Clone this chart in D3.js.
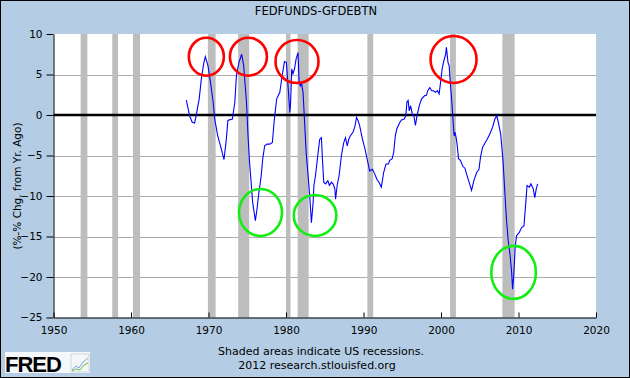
<!DOCTYPE html>
<html>
<head>
<meta charset="utf-8">
<script src="https://cdn.jsdelivr.net/npm/d3@7/dist/d3.min.js"></script>
<style>
  html, body { margin: 0; padding: 0; background: #b4cde4; }
  svg { display: block; }
  text { font-family: "DejaVu Sans", Verdana, sans-serif; fill: #000; }
</style>
</head>
<body>
<svg id="chart" width="630" height="378"></svg>
<script>
// ---- data (decimal year, % - % change from year ago) ----
const dates = [
  1967.14,1967.56,1967.9,1968.2,1968.4,1968.8,1969.07,1969.37,1969.59,1969.93,
  1970.2,1970.6,1970.8,1971.2,1971.66,1972.0,1972.3,1972.5,1972.7,1973.08,
  1973.4,1973.6,1973.93,1974.28,1974.54,1974.9,1975.1,1975.3,1975.5,1975.7,
  1976.05,1976.26,1976.5,1976.8,1977.0,1977.25,1977.55,1977.9,1978.24,1978.5,
  1978.8,1979.2,1979.5,1979.8,1980.05,1980.26,1980.5,1980.6,1980.74,1980.9,
  1981.1,1981.3,1981.55,1981.7,1981.85,1982.0,1982.2,1982.4,1982.6,1982.85,
  1983.06,1983.28,1983.5,1983.6,1983.8,1984.1,1984.35,1984.57,1984.7,1984.87,
  1985.1,1985.4,1985.6,1985.86,1986.07,1986.3,1986.4,1986.6,1986.85,1987.15,
  1987.45,1987.67,1987.9,1988.1,1988.3,1988.65,1988.87,1989.1,1989.3,1989.5,
  1989.87,1990.2,1990.46,1990.8,1991.16,1991.46,1991.75,1992.0,1992.3,1992.6,
  1992.9,1993.2,1993.4,1993.7,1993.9,1994.1,1994.3,1994.7,1994.9,1995.25,
  1995.46,1995.6,1995.76,1995.9,1996.07,1996.3,1996.5,1996.7,1996.9,1997.2,
  1997.5,1997.9,1998.1,1998.3,1998.56,1998.8,1999.0,1999.3,1999.55,1999.76,
  1999.94,2000.15,2000.37,2000.6,2000.7,2000.9,2001.05,2001.2,2001.4,2001.57,
  2001.7,2001.8,2001.95,2002.1,2002.26,2002.5,2002.8,2003.1,2003.3,2003.6,
  2003.94,2004.24,2004.6,2004.9,2005.1,2005.36,2005.66,2005.96,2006.3,2006.66,
  2006.95,2007.2,2007.4,2007.7,2008.0,2008.25,2008.46,2008.67,2008.9,2009.1,
  2009.24,2009.4,2009.57,2009.75,2010.1,2010.4,2010.7,2010.96,2011.1,2011.4,
  2011.6,2011.9,2012.1,2012.3,2012.47
];
const values = [
  1.85,-0.1,-0.9,-1.0,-0.1,2.0,4.4,6.3,7.2,6.1,
  4.4,1.6,-0.5,-2.6,-4.2,-5.5,-3.0,-0.7,-0.6,-0.5,
  1.6,4.85,6.5,7.5,6.1,1.6,-2.6,-5.9,-8.3,-10.8,
  -13.05,-11.6,-9.6,-7.5,-5.4,-3.8,-3.6,-3.6,-3.4,-0.5,
  2.0,2.8,4.85,6.6,6.5,3.6,0.3,1.6,5.7,5.1,
  5.7,6.9,7.7,4.0,3.6,4.0,2.8,-0.9,-4.6,-7.5,
  -10.0,-13.3,-10.8,-8.7,-7.5,-5.0,-3.0,-2.8,-5.4,-8.3,
  -8.5,-8.1,-8.7,-8.3,-8.5,-9.1,-10.4,-8.7,-7.5,-5.0,
  -3.4,-2.8,-3.8,-3.0,-2.6,-2.1,-1.5,-0.3,-0.7,-1.3,
  -3.0,-4.2,-5.4,-6.9,-6.7,-7.3,-8.0,-8.3,-8.9,-7.1,
  -6.05,-6.05,-5.6,-5.4,-4.6,-2.6,-1.7,-0.9,-0.6,-0.5,
  -0.1,1.6,1.8,0.5,1.15,0.1,-0.1,-1.3,-0.1,1.15,
  2.0,2.4,2.4,3.0,3.4,3.0,3.0,2.8,3.0,2.6,
  4.0,5.7,6.7,7.5,8.35,6.5,6.1,4.0,1.6,-0.9,
  -2.6,-2.1,-2.8,-3.8,-5.4,-5.6,-6.3,-6.6,-7.3,-8.2,
  -9.3,-8.1,-7.1,-6.7,-5.2,-4.0,-3.5,-3.0,-2.35,-1.5,
  -0.5,-0.1,-0.9,-2.35,-5.6,-9.75,-13.05,-15.5,-17.2,-19.2,
  -21.5,-19.6,-16.3,-14.9,-14.5,-13.9,-13.7,-10.6,-8.7,-8.9,
  -8.5,-9.1,-10.2,-9.1,-8.5
];
const recessionStarts = [1953.5,1957.58,1960.25,1969.92,1973.83,1980.0,1981.5,1990.5,2001.17,2007.92];
const recessionEnds   = [1954.37,1958.33,1961.17,1970.92,1975.25,1980.58,1982.92,1991.25,2001.92,2009.5];
const xTicks = [1950,1960,1970,1980,1990,2000,2010,2020];
const yTicks = [10,5,0,-5,-10,-15,-20,-25];
// annotation circles (centre in data units)
const redCircleYears   = [1969.72,1975.15,1981.42,2001.62];
const redCircleValues  = [7.2,7.2,6.6,6.86];
const greenCircleYears  = [1976.71,1983.75,2009.37];
const greenCircleValues = [-12.04,-12.4,-19.43];

const titleText = "FEDFUNDS-GFDEBTN";
const yLabel = "(%-% Chg. from Yr. Ago)";
const footer1 = "Shaded areas indicate US recessions.";
const footer2 = "2012 research.stlouisfed.org";

// ---- layout ----
const W = 630, H = 378;
const L = 53.5, R = 596, T = 34, B = 317.5;
const svg = d3.select("#chart");

svg.append("rect").attr("x",0.5).attr("y",0.5).attr("width",W-1).attr("height",H-1)
  .attr("fill","#b4cde4").attr("stroke","#000").attr("stroke-width",1);

const x = d3.scaleLinear().domain([1950,2020]).range([L,R]);
const y = d3.scaleLinear().domain([-25,10]).range([B,T]);

svg.append("rect").attr("x",L).attr("y",T).attr("width",R-L).attr("height",B-T).attr("fill","#fff");

// gridlines
svg.append("g").selectAll("line").data(yTicks.filter(v => v!==10 && v!==-25)).join("line")
  .attr("x1",L).attr("x2",R).attr("y1",d=>Math.round(y(d))+0.5).attr("y2",d=>Math.round(y(d))+0.5)
  .attr("stroke","#acacac").attr("stroke-width",1);

// recession shading
svg.append("g").selectAll("rect").data(recessionStarts.map((s,i)=>[s,recessionEnds[i]])).join("rect")
  .attr("x",d=>x(d[0])).attr("width",d=>x(d[1])-x(d[0]))
  .attr("y",T).attr("height",B-T).attr("fill","#bdbdbd");

// zero line
svg.append("line").attr("x1",L).attr("x2",R).attr("y1",y(0)).attr("y2",y(0))
  .attr("stroke","#000").attr("stroke-width",2.5);

// axes
const yAxis = d3.axisLeft(y).tickValues(yTicks).tickSize(7).tickSizeOuter(0).tickPadding(4);
const gy = svg.append("g").attr("transform",`translate(${L},0)`).call(yAxis);
const xAxis = d3.axisBottom(x).tickValues(xTicks).tickFormat(d3.format("d")).tickSize(-5).tickSizeOuter(0).tickPadding(9);
const gx = svg.append("g").attr("transform",`translate(0,${B})`).call(xAxis);
[gx,gy].forEach(g=>{
  g.selectAll("text").style("font-family","DejaVu Sans, Verdana, sans-serif").style("font-size","10.5px").attr("fill","#000");
  g.selectAll("line").attr("stroke","#000");
  g.select(".domain").attr("stroke","#000");
});

// data line
const line = d3.line().x((d,i)=>x(dates[i])).y(d=>y(d));
svg.append("path").datum(values).attr("d",line)
  .attr("fill","none").attr("stroke","#0000ff").attr("stroke-width",1.1);

// annotation circles
svg.append("g").selectAll("ellipse").data(redCircleYears.map((yr,i)=>[yr,redCircleValues[i]])).join("ellipse")
  .attr("cx",d=>x(d[0])).attr("cy",d=>y(d[1])).attr("rx",(d,i)=>[17.5,18.5,21.5,23][i]).attr("ry",(d,i)=>[19,19,21.5,23.5][i])
  .attr("fill","none").attr("stroke","#ff0000").attr("stroke-width",2.6);
svg.append("g").selectAll("ellipse").data(greenCircleYears.map((yr,i)=>[yr,greenCircleValues[i]])).join("ellipse")
  .attr("cx",d=>x(d[0])).attr("cy",d=>y(d[1])).attr("rx",(d,i)=>[21.5,21.3,22.3][i]).attr("ry",(d,i)=>[23.5,20.5,26.5][i])
  .attr("fill","none").attr("stroke","#11ee11").attr("stroke-width",2.6);

// texts
svg.append("text").attr("x",316).attr("y",15).attr("text-anchor","middle").style("font-size","11.5px").text(titleText);
svg.append("text").attr("transform","translate(21,186) rotate(-90)").attr("text-anchor","middle").style("font-size","10.5px").text(yLabel);
svg.append("text").attr("x",321).attr("y",355).attr("text-anchor","middle").style("font-size","11px").text(footer1);
svg.append("text").attr("x",317).attr("y",368.5).attr("text-anchor","middle").style("font-size","11px").text(footer2);

// FRED logo
const logo = svg.append("g");
logo.append("rect").attr("x",5).attr("y",352).attr("width",85).attr("height",21).attr("fill","#ffffff").attr("opacity",0.85);
logo.append("text").attr("x",5).attr("y",371.5).style("font-family","Liberation Sans, Arial, sans-serif")
  .style("font-weight","900").style("font-size","22px").style("letter-spacing","-1px").attr("fill","#111").text("FRED");
logo.append("rect").attr("x",71).attr("y",354).attr("width",18).attr("height",18).attr("fill","#f4f6f8").attr("stroke","#cfd6dc");
logo.append("path").attr("d","M72,370 L76,366 L79,368 L83,362 L88,358").attr("fill","none").attr("stroke","#7aa6d6").attr("stroke-width",1);
logo.append("path").attr("d","M72,371 L76,369 L80,370 L84,365 L88,363").attr("fill","none").attr("stroke","#6cbf4a").attr("stroke-width",1);
</script>
</body>
</html>
